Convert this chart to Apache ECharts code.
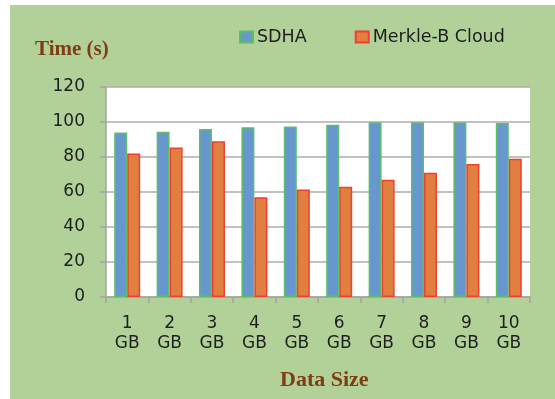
<!DOCTYPE html>
<html>
<head>
<meta charset="utf-8">
<script src="https://cdn.jsdelivr.net/npm/echarts@6/dist/echarts.min.js"></script>
<style>
  html, body { margin: 0; padding: 0; background: #ffffff; }
  #chart { width: 555px; height: 399px; }
</style>
</head>
<body>
<div id="chart"></div>
<script>
// Upload/verification time per data size
var categories = ['1\nGB', '2\nGB', '3\nGB', '4\nGB', '5\nGB', '6\nGB', '7\nGB', '8\nGB', '9\nGB', '10\nGB'];
var sdha = [94, 94.5, 96, 97, 97.5, 98.5, 99.8, 99.8, 99.8, 99.5];
var merkleB = [82, 85.5, 89, 57, 61.5, 63, 67, 71, 76, 79];
var yTicks = { min: 0, max: 120, interval: 20 };

var chart = echarts.init(document.getElementById('chart'), null, { renderer: 'canvas' });

var labelFont = 'DejaVu Sans';
var titleColor = '#7f3d14';

chart.setOption({
  backgroundColor: '#ffffff',
  animation: false,
  graphic: [
    {
      type: 'rect', left: 10, top: 5, z: -10,
      shape: { width: 545, height: 394 },
      style: { fill: '#b2d199' }
    },
    {
      type: 'text', left: 35, top: 39,
      style: { text: 'Time (s)', fill: titleColor, font: 'bold 21px "Liberation Serif"' }
    },
    {
      type: 'text', left: 280, top: 369,
      style: { text: 'Data Size', fill: titleColor, font: 'bold 22px "Liberation Serif"' }
    }
  ],
  legend: {
    left: 234, top: 23,
    icon: 'rect',
    itemWidth: 13, itemHeight: 11, itemGap: 48,
    textStyle: { fontFamily: labelFont, fontSize: 17.5, color: '#1e1e1e', padding: [0, 0, 0, -1] },
    data: ['SDHA', 'Merkle-B Cloud']
  },
  grid: {
    left: 106, right: 25, top: 87, bottom: 102,
    show: true, backgroundColor: '#ffffff', borderWidth: 0
  },
  xAxis: {
    type: 'category',
    data: categories,
    axisLine: { show: true, lineStyle: { color: '#a3a3a3', width: 1.5 } },
    axisTick: { show: true, alignWithLabel: false, length: 6, lineStyle: { color: '#a3a3a3', width: 1.5 } },
    axisLabel: { fontFamily: labelFont, fontSize: 17, color: '#1e1e1e', lineHeight: 20, margin: 17 }
  },
  yAxis: {
    type: 'value',
    min: yTicks.min, max: yTicks.max, interval: yTicks.interval,
    axisLine: { show: true, lineStyle: { color: '#a3a3a3', width: 1.5 } },
    axisTick: { show: true, length: 6, lineStyle: { color: '#a3a3a3', width: 1.5 } },
    splitLine: { show: true, lineStyle: { color: '#acacac', width: 1.5 } },
    axisLabel: { fontFamily: labelFont, fontSize: 17, color: '#1e1e1e', margin: 21 }
  },
  series: [
    {
      name: 'SDHA', type: 'bar', data: sdha,
      barWidth: 13, barGap: '0%',
      itemStyle: { color: '#6797cf', borderColor: '#5cbf68', borderWidth: 1.5 }
    },
    {
      name: 'Merkle-B Cloud', type: 'bar', data: merkleB,
      barWidth: 13,
      itemStyle: { color: '#e07f3f', borderColor: '#f03e33', borderWidth: 1.5 }
    }
  ]
});
</script>
</body>
</html>
